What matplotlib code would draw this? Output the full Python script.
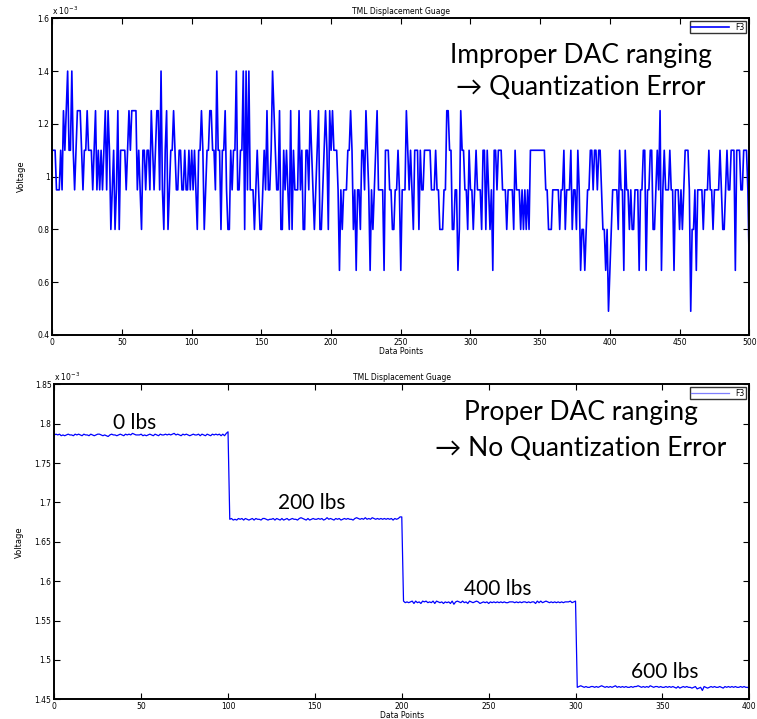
import numpy as np
import matplotlib
matplotlib.use("Agg")
from matplotlib import pyplot as plt

# region: data
# top panel: quantized readings, one digit per sample (index into quant_levels, mV)
quant_levels = [0.49, 0.645, 0.80, 0.95, 1.10, 1.25, 1.40]
top_codes = """
4443334354 5644643455 5434454443 4534343453 5423423524
4443454555 5343244344 3543455363 2452344543 3443343343
4343244542 3445544364 4244532243 4463344626 3633323432
2343533465 4335224343 2524333534 2244354323 4522345425
4544431323 3344542313 3244354313 2345333314 4433223343
1333543432 4442433444 4433343322 2335544223 3125443324
3323433324 4243231443 4443332333 3243332323 2324444444
4444332223 3333233423 3342332431 2212334434 4344322120
1233332433 1433232233 3133441334 4223435134 3334331333
2323444302 2313333233 3433233334 3223433444 14443344431
"""

# bottom panel: four load steps (mV) and per-sample wiggle (digit 4 = on level, 0.001 mV per step)
step_loads = ["0 lbs", "200 lbs", "400 lbs", "600 lbs"]
step_levels = [1.7857, 1.6786, 1.5727, 1.4652]
step_wiggle = [
    "4545343454 4354543544 3543455434 3245443454 3545465444 5343454354 3544545456 4543545434 5445354354 3545453536 8",
    "4534354535 4345354435 5434453543 5345345443 5654353454 4545346454 3545345454 4356545464 5465454545 4545354577",
    "6454563645 3656454636 5453545362 5654645365 4565345453 5454545454 4555454545 5454553646 4565454545 4545556456",
    "4565454455 4545654545 4564545454 4545565454 5465455454 4545454353 4545443452 3405434545 4454354545 4544545443",
]
# endregion

top_y = np.array([quant_levels[int(c)] for c in "".join(top_codes.split())])
top_x = np.arange(len(top_y))

bot_y = []
for lvl, w in zip(step_levels, step_wiggle):
    bot_y += [lvl + (int(c) - 4) * 0.001 for c in "".join(w.split())]
bot_y = np.array(bot_y)
bot_x = np.arange(len(bot_y))

note_font = ["Lato", "DejaVu Sans"]


def matlab_axes(ax):
    for s in ax.spines.values():
        s.set_linewidth(1.4)
    ax.tick_params(direction="in", length=4, width=0.8, top=True, right=True,
                   labelsize=5.5, pad=2)
    ax.set_title("TML Displacement Guage", fontsize=5.5, pad=3)
    ax.set_xlabel("Data Points", fontsize=5.5, labelpad=0)
    ax.set_ylabel("Voltage", fontsize=6, family=["Liberation Sans Narrow", "DejaVu Sans"], labelpad=8)
    ax.text(0.0, 1.005, r"x 10$^{-3}$", transform=ax.transAxes, fontsize=5.5, va="bottom", ha="left")


fig = plt.figure(figsize=(7.57, 7.19), dpi=100)

# region: top panel
ax1 = fig.add_axes([0.0691, 0.5341, 0.9207, 0.4404])
ax1.plot(top_x, top_y, color="#0000ff", lw=1.2, label="F3")
ax1.set_xlim(0, 500)
ax1.set_ylim(0.4, 1.6)
ax1.set_xticks(np.arange(0, 501, 50))
ax1.set_yticks([0.4, 0.6, 0.8, 1.0, 1.2, 1.4, 1.6])
ax1.set_yticklabels(["0.4", "0.6", "0.8", "1", "1.2", "1.4", "1.6"])
matlab_axes(ax1)
leg = ax1.legend(loc="upper right", fontsize=5.5, frameon=True, fancybox=False,
                 edgecolor="black", handlelength=5, borderaxespad=0.4, borderpad=0.2)
leg.get_frame().set_linewidth(1.0)
ax1.text(379, 1.461, "Improper DAC ranging", ha="center", va="center", fontsize=19, family=note_font)
ax1.text(379, 1.336, "\u2192 Quantization Error", ha="center", va="center", fontsize=19, family=note_font)
# endregion

# region: bottom panel
ax2 = fig.add_axes([0.0717, 0.0274, 0.9181, 0.4381])
ax2.plot(bot_x, bot_y, color="#0000ff", lw=0.9, label="F3")
ax2.set_xlim(0, 400)
ax2.set_ylim(1.45, 1.85)
ax2.set_xticks(np.arange(0, 401, 50))
ax2.set_yticks([1.45, 1.5, 1.55, 1.6, 1.65, 1.7, 1.75, 1.8, 1.85])
ax2.set_yticklabels(["1.45", "1.5", "1.55", "1.6", "1.65", "1.7", "1.75", "1.8", "1.85"])
matlab_axes(ax2)
leg = ax2.legend(loc="upper right", fontsize=5.5, frameon=True, fancybox=False,
                 edgecolor="black", handlelength=5, borderaxespad=0.4, borderpad=0.2)
leg.get_frame().set_linewidth(1.0)
for h in leg.legend_handles:
    h.set_color("#7f7fff")
ax2.text(303, 1.8136, "Proper DAC ranging", ha="center", va="center", fontsize=19, family=note_font)
ax2.text(303, 1.769, "\u2192 No Quantization Error", ha="center", va="center", fontsize=19, family=note_font)
label_pos = [(46, 1.8009), (148, 1.6993), (255, 1.590), (351.5, 1.4847)]
for txt, (lx, ly) in zip(step_loads, label_pos):
    ax2.text(lx, ly, txt, ha="center", va="center", fontsize=15, family=note_font)
# endregion

fig.savefig("out.png", dpi=100)
